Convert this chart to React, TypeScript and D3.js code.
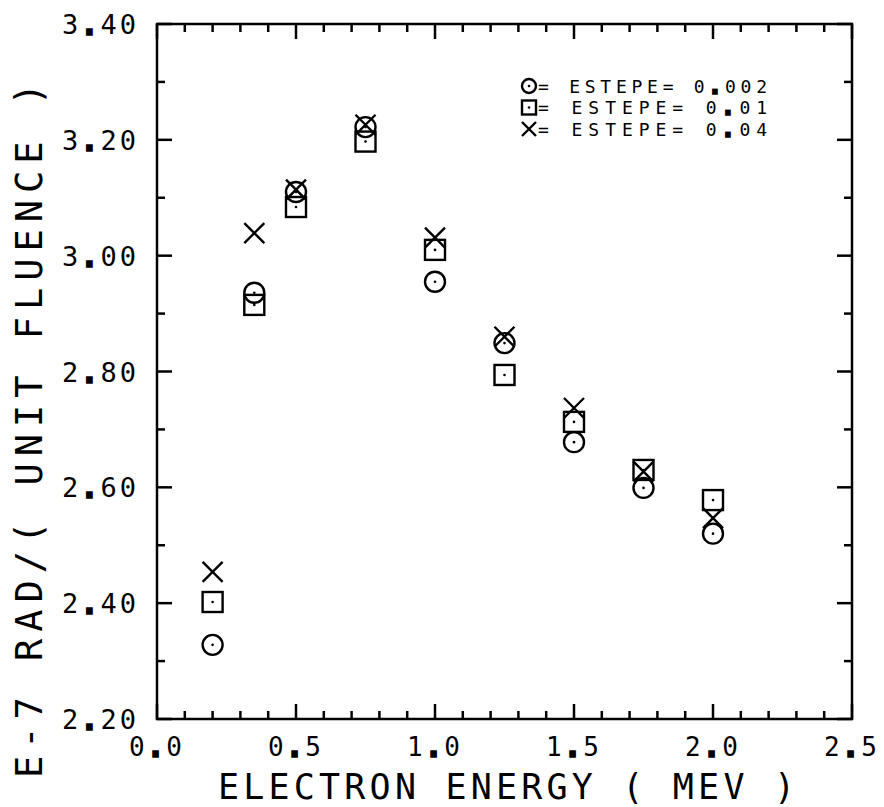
import React from "react";
import * as d3 from "d3";

const energies = [0.2, 0.35, 0.5, 0.75, 1.0, 1.25, 1.5, 1.75, 2.0];
const dose002 = [2.328, 2.936, 3.110, 3.222, 2.955, 2.849, 2.678, 2.599, 2.520];
const dose01 = [2.402, 2.915, 3.084, 3.197, 3.010, 2.794, 2.713, 2.630, 2.578];
const dose04 = [2.454, 3.039, 3.114, 3.226, 3.031, 2.860, 2.737, 2.627, 2.547];
const xTickLabels = ["0.0", "0.5", "1.0", "1.5", "2.0", "2.5"];
const yTickLabels = ["2.20", "2.40", "2.60", "2.80", "3.00", "3.20", "3.40"];
const legendLabels = ["= ESTEPE= 0.002", "= ESTEPE= 0.01", "= ESTEPE= 0.04"];
const xTitle = "ELECTRON ENERGY ( MEV )";
const yTitle = "E-7 RAD/( UNIT FLUENCE )";

const FONT = "'DejaVu Sans Mono', monospace";

function Label({ text, ...rest }: any) {
  const parts = text.split(".");
  return (
    <text {...rest}>
      {parts.map((p: string, i: number) => (
        <React.Fragment key={i}>
          {i > 0 && (
            <tspan stroke="#000" strokeWidth={3.5} strokeLinejoin="miter">.</tspan>
          )}
          {p}
        </React.Fragment>
      ))}
    </text>
  );
}

function Marker({ kind, x, y, s }: { kind: string; x: number; y: number; s: number }) {
  const sw = 2.4;
  if (kind === "circle") {
    return (
      <g>
        <circle cx={x} cy={y} r={s} fill="none" stroke="#000" strokeWidth={sw} />
        <circle cx={x} cy={y} r={1.3} fill="#000" />
      </g>
    );
  }
  if (kind === "square") {
    return (
      <g>
        <rect x={x - s} y={y - s} width={2 * s} height={2 * s} fill="none" stroke="#000" strokeWidth={sw} />
        <circle cx={x} cy={y} r={1.3} fill="#000" />
      </g>
    );
  }
  return (
    <path
      d={`M${x - s},${y - s}L${x + s},${y + s}M${x - s},${y + s}L${x + s},${y - s}`}
      stroke="#000"
      strokeWidth={sw}
      fill="none"
    />
  );
}

export default function App() {
  const left = 157, right = 852, top = 24, bottom = 719;
  const x = d3.scaleLinear().domain([0, 2.5]).range([left, right]);
  const y = d3.scaleLinear().domain([2.2, 3.4]).range([bottom, top]);

  const xMinor = d3.range(0, 26).map((i) => i / 10);
  const yMinor = d3.range(22, 35).map((i) => i / 10);
  const isMajorX = (v: number) => Math.abs(v * 2 - Math.round(v * 2)) < 1e-6;
  const isMajorY = (v: number) => Math.abs(v * 5 - Math.round(v * 5)) < 1e-6;

  const series = [
    { kind: "circle", vals: dose002 },
    { kind: "square", vals: dose01 },
    { kind: "x", vals: dose04 },
  ];

  const ink = "#000";
  const sw = 2.5;

  return (
    <svg
      width={884}
      height={807}
      style={{ position: "absolute", left: 0, top: 0, background: "#fff" }}
      fontFamily={FONT}
    >
      <rect x={0} y={0} width={884} height={807} fill="#fff" />
      {/* frame */}
      <rect x={left} y={top} width={right - left} height={bottom - top} fill="none" stroke={ink} strokeWidth={sw} />

      {/* x ticks bottom & top */}
      {xMinor.map((v, i) => {
        const L = isMajorX(v) ? 15 : 8;
        const px = x(v);
        return (
          <g key={"xt" + i}>
            <line x1={px} x2={px} y1={bottom} y2={bottom - L} stroke={ink} strokeWidth={sw} />
            <line x1={px} x2={px} y1={top} y2={top + L} stroke={ink} strokeWidth={sw} />
          </g>
        );
      })}
      {/* y ticks left & right */}
      {yMinor.map((v, i) => {
        const L = isMajorY(v) ? 15 : 8;
        const py = y(v);
        return (
          <g key={"yt" + i}>
            <line x1={left} x2={left + L} y1={py} y2={py} stroke={ink} strokeWidth={sw} />
            <line x1={right} x2={right - L} y1={py} y2={py} stroke={ink} strokeWidth={sw} />
          </g>
        );
      })}

      {/* x tick labels */}
      {xTickLabels.map((t) => (
        <Label
          key={"xl" + t}
          text={t}
          x={x(+t)}
          y={756}
          textAnchor="middle"
          fontSize={26}
          letterSpacing={3}
          fill={ink}
        />
      ))}
      {/* y tick labels */}
      {yTickLabels.map((t) => (
        <Label
          key={"yl" + t}
          text={t}
          x={139}
          y={y(+t) + 10}
          textAnchor="end"
          fontSize={27}
          letterSpacing={3}
          fill={ink}
        />
      ))}

      {/* axis titles */}
      <text
        x={218}
        y={799}
        fontSize={35}
        textLength={577}
        lengthAdjust="spacing"
        fill={ink}
      >
        {xTitle}
      </text>
      <text
        transform={`translate(42,778) rotate(-90)`}
        x={0}
        y={0}
        fontSize={37}
        textLength={695}
        lengthAdjust="spacing"
        fill={ink}
      >
        {yTitle}
      </text>

      {/* data */}
      {series.map((s) =>
        energies.map((e, i) => (
          <Marker key={s.kind + i} kind={s.kind} x={x(e)} y={y(s.vals[i])} s={10} />
        ))
      )}

      {/* legend */}
      {series.map((s, i) => {
        const cy = 86 + i * 21.5;
        return (
          <g key={"lg" + i}>
            <Marker kind={s.kind} x={529} y={cy} s={7} />
            <Label
              text={legendLabels[i]}
              x={538}
              y={cy + 6.5}
              fontSize={18}
              textLength={229}
              lengthAdjust="spacing"
              fill={ink}
            />
          </g>
        );
      })}
    </svg>
  );
}
